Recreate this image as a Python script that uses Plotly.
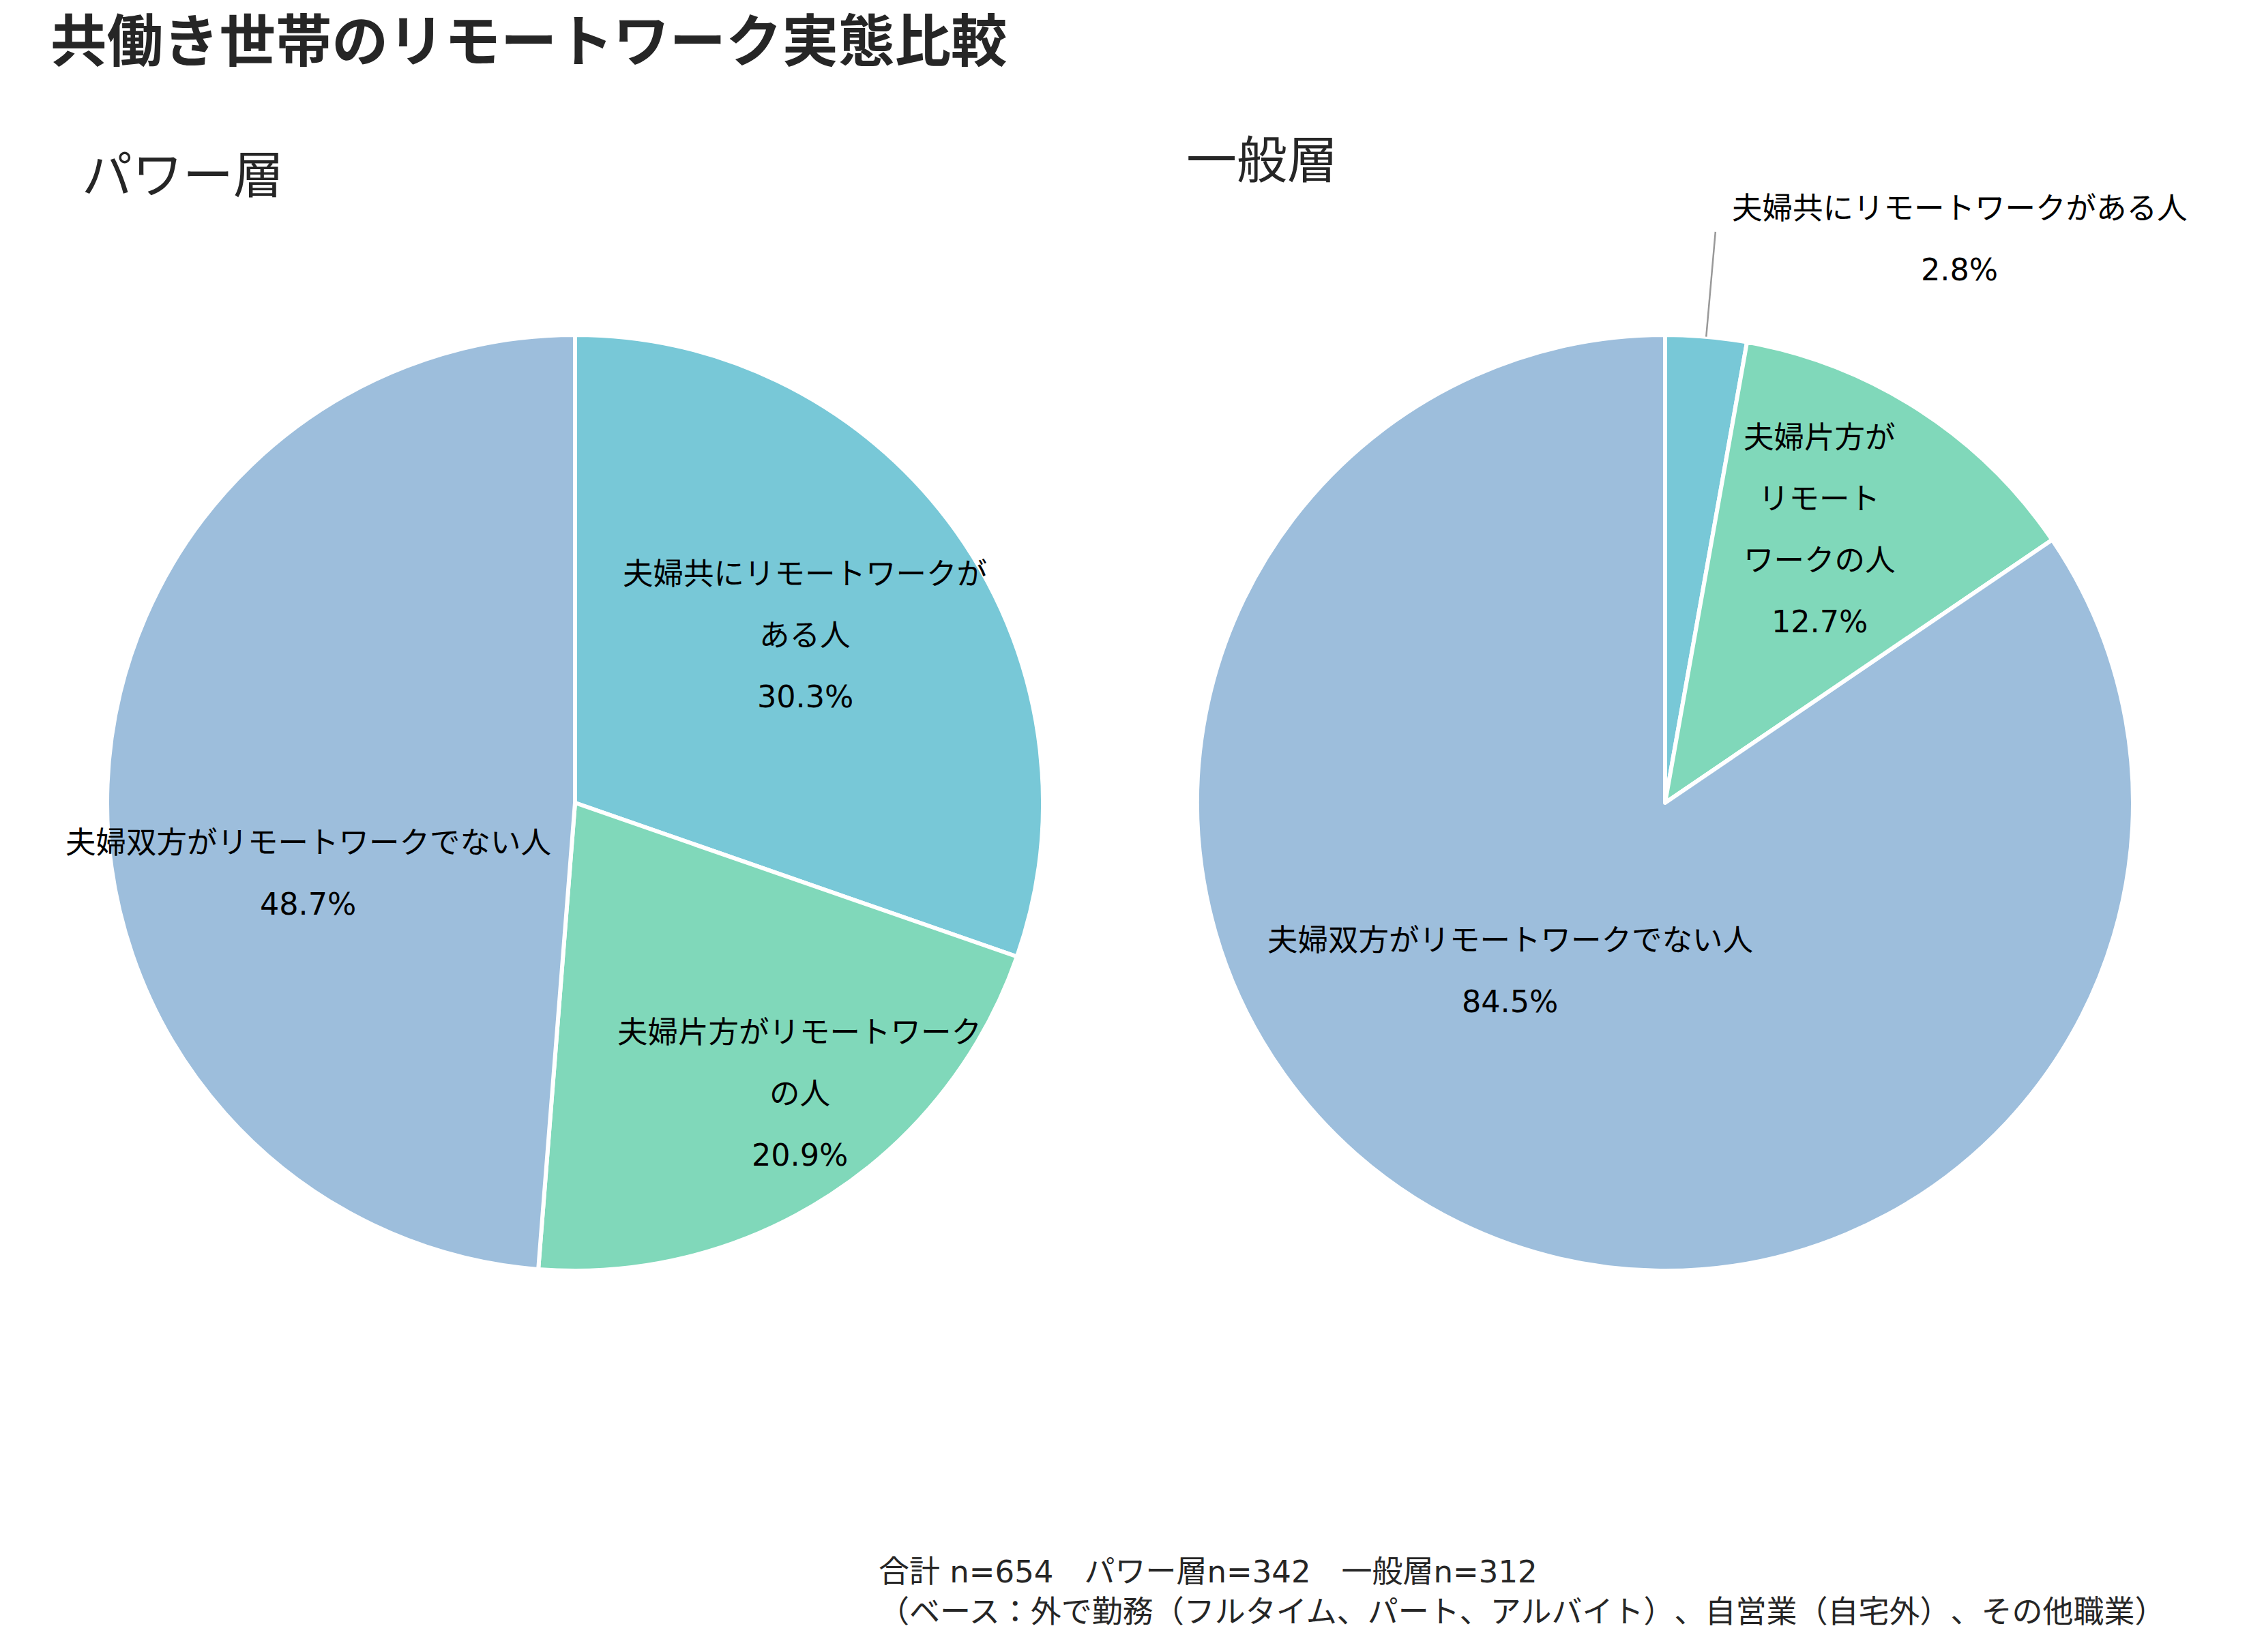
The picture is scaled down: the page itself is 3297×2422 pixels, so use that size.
import math
import plotly.graph_objects as go

# ---------------- data ----------------
TITLE = "共働き世帯のリモートワーク実態比較"
SUBTITLES = ["パワー層", "一般層"]
CATEGORIES = [
    "夫婦共にリモートワークがある人",
    "夫婦片方がリモートワークの人",
    "夫婦双方がリモートワークでない人",
]
POWER_VALUES = [30.3, 20.9, 48.7]
GENERAL_VALUES = [2.8, 12.7, 84.5]
POWER_LABEL_LINES = [
    ["夫婦共にリモートワークが", "ある人"],
    ["夫婦片方がリモートワーク", "の人"],
    ["夫婦双方がリモートワークでない人"],
]
GENERAL_LABEL_LINES = [
    ["夫婦共にリモートワークがある人"],
    ["夫婦片方が", "リモート", "ワークの人"],
    ["夫婦双方がリモートワークでない人"],
]
FOOTNOTE_LINES = [
    "合計 n=654　パワー層n=342　一般層n=312",
    "（ベース：外で勤務（フルタイム、パート、アルバイト）、自営業（自宅外）、その他職業）",
]

# ---------------- style ----------------
W, H = 3297, 2422
FONT = "DejaVu Sans, Noto Sans CJK JP"
COLORS = ["#78C8D7", "#80D8BA", "#9DBEDC"]
PIE_R = 686
PIE_CENTERS = [(843, 1177), (2441, 1177)]
# label placement (radius factor, angle offset in degrees from slice middle)
POWER_LABEL_POS = [(0.612, -1.2), (0.779, -4.85), (0.588, -16.35)]
GENERAL_LABEL_POS = [(1.365, 22.4), (0.677, -3.8), (0.483, 15.4)]
GENERAL_OUTSIDE = [True, False, False]
POWER_OUTSIDE = [False, False, False]
LABEL_FONT = 44.5
LINE_GAP = 90
LABEL_Y_SHIFT = 5
ZW = "\u200b"  # keeps the browser from trimming full-width punctuation spacing
PUNCT = "）、（："


def px(x):
    return x / W


def py(y):
    return 1 - y / H


def untrim(s):
    out = ""
    for a in s:
        if a in PUNCT:
            out += ZW + a + ZW
        else:
            out += a
    return out


fig = go.Figure()
annotations = []
shapes = []

datasets = [
    (POWER_VALUES, POWER_LABEL_LINES, POWER_LABEL_POS, POWER_OUTSIDE),
    (GENERAL_VALUES, GENERAL_LABEL_LINES, GENERAL_LABEL_POS, GENERAL_OUTSIDE),
]

for (values, label_lines, label_pos, outside), (cx, cy) in zip(datasets, PIE_CENTERS):
    fig.add_trace(go.Pie(
        values=values,
        labels=CATEGORIES,
        sort=False,
        direction="clockwise",
        rotation=0,
        textinfo="none",
        hoverinfo="label+percent",
        marker=dict(colors=COLORS, line=dict(color="white", width=6)),
        domain=dict(x=[px(cx - PIE_R), px(cx + PIE_R)],
                    y=[py(cy + PIE_R), py(cy - PIE_R)]),
        showlegend=False,
    ))
    total = sum(values)
    cum = 0.0
    for v, lines, (rf, doff), outs in zip(values, label_lines, label_pos, outside):
        mid = (cum + v / 2) / total * 360
        cum += v
        ang = math.radians(mid + doff)
        bx = cx + rf * PIE_R * math.sin(ang)
        by = cy - rf * PIE_R * math.cos(ang) + LABEL_Y_SHIFT
        all_lines = lines + [f"{v:.1f}%"]
        n = len(all_lines)
        for i, t in enumerate(all_lines):
            ly = by + (i - (n - 1) / 2) * LINE_GAP
            annotations.append(dict(
                x=px(bx), y=py(ly), xref="paper", yref="paper",
                text=t, showarrow=False, xanchor="center", yanchor="middle",
                font=dict(family=FONT, size=LABEL_FONT, color="#000000"),
            ))
        if outs:
            m = math.radians(mid)
            x0 = cx + 1.0 * PIE_R * math.sin(m)
            y0 = cy - 1.0 * PIE_R * math.cos(m)
            x1 = cx + 1.225 * PIE_R * math.sin(m)
            y1 = cy - 1.225 * PIE_R * math.cos(m)
            shapes.append(dict(type="line", xref="paper", yref="paper",
                               x0=px(x0), y0=py(y0), x1=px(x1), y1=py(y1),
                               line=dict(color="#999999", width=2.5)))

# title
annotations.append(dict(
    x=px(72), y=py(61), xref="paper", yref="paper", text=f"<b>{TITLE}</b>",
    showarrow=False, xanchor="left", yanchor="middle",
    font=dict(family=FONT, size=82.5, color="#262626"),
))
# subplot titles
for t, (x, y) in zip(SUBTITLES, [(118, 257), (1737, 235)]):
    annotations.append(dict(
        x=px(x), y=py(y), xref="paper", yref="paper", text=t,
        showarrow=False, xanchor="left", yanchor="middle",
        font=dict(family=FONT, size=74, color="#262626"),
    ))
# footnote
annotations.append(dict(
    x=px(1286), y=py(2334), xref="paper", yref="paper",
    text="<br>".join(untrim(s) for s in FOOTNOTE_LINES), align="left",
    showarrow=False, xanchor="left", yanchor="middle",
    font=dict(family=FONT, size=45, color="#262626"),
))

fig.update_layout(
    width=W, height=H,
    margin=dict(l=0, r=0, t=0, b=0),
    paper_bgcolor="white", plot_bgcolor="white",
    annotations=annotations, shapes=shapes,
)

fig.write_html("out.html")
